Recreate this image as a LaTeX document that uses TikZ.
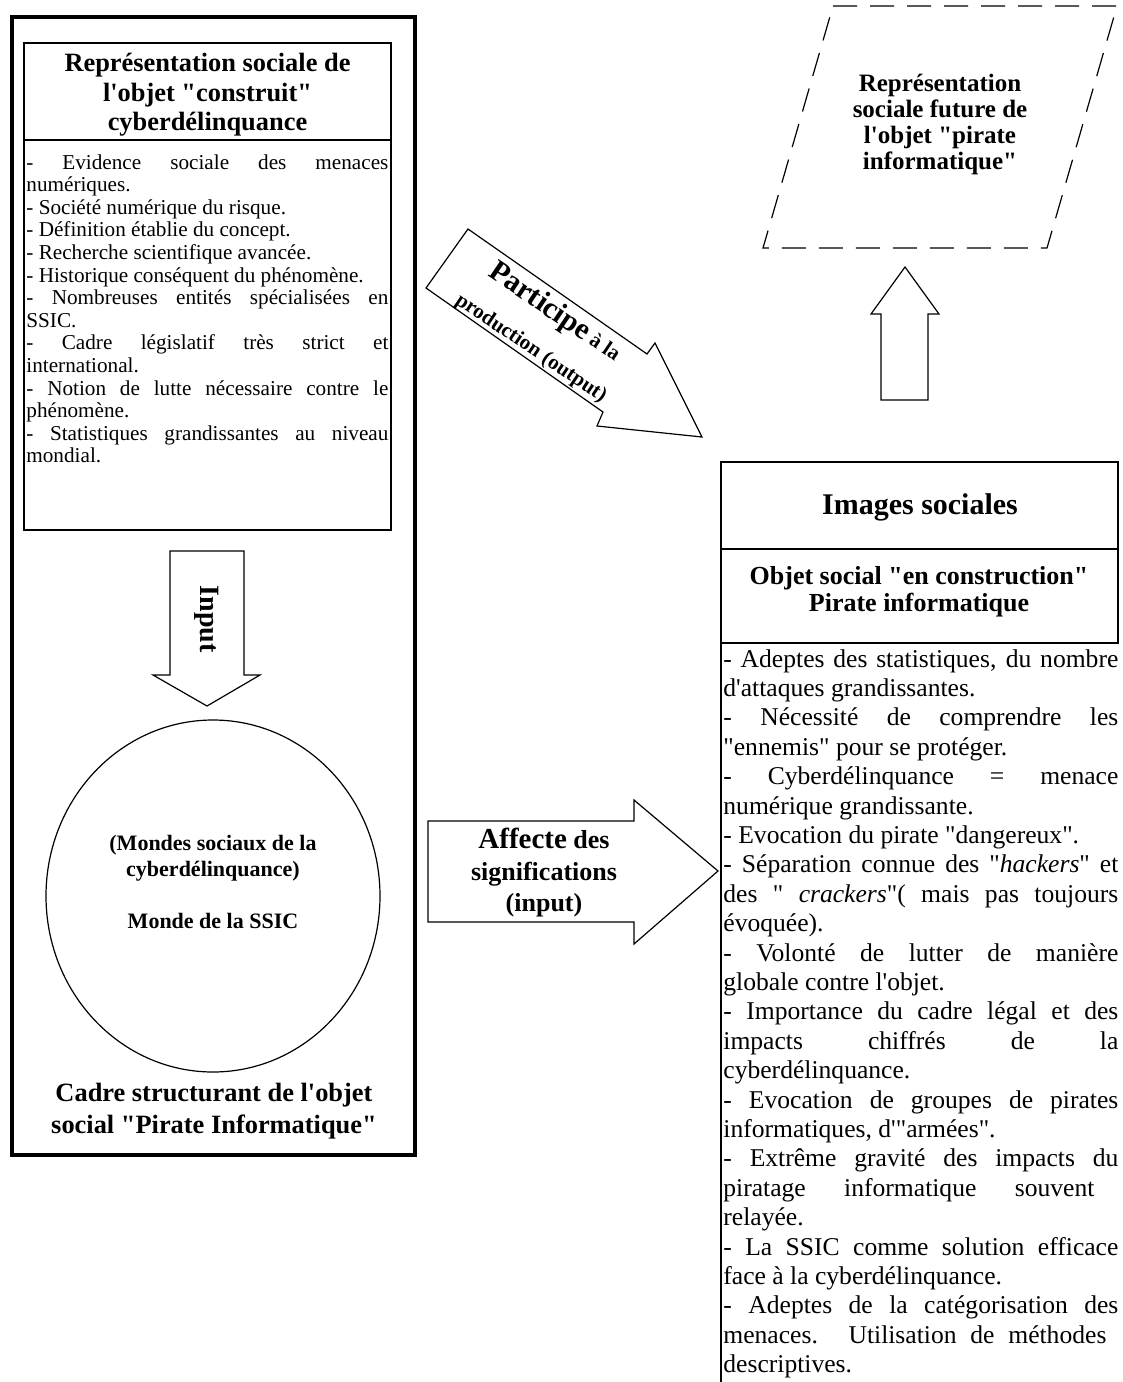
\documentclass[tikz,border=0pt]{standalone}
\usepackage{fontspec}
\setmainfont{Liberation Serif}[Ligatures=TeXOff]
\usetikzlibrary{shapes.geometric}
\setlength{\parindent}{0pt}

\begin{document}
\begin{tikzpicture}[x=0.5pt,y=-0.5pt,line join=miter]
    \tikzstyle{every node}=[inner sep=0pt];
    \tikzstyle{trait}=[draw,line width=0.6pt];
    \tikzstyle{cadre}=[draw,line width=1.6pt];
    \tikzstyle{fleche}=[draw,line width=0.6pt,fill=white];
    \tikzstyle{titre}=[align=center,font=\bfseries];
    \tikzstyle{liste}=[anchor=north west,align=justify];
    \useasboundingbox (0,0) rectangle (1123,1382);

    % bloc de gauche
    \draw[cadre] (12,17) rectangle (415,1155);
    \draw[trait] (24,43) rectangle (391,530);
    \draw[trait] (24,140) -- (391,140);
    \node[titre,font=\fontsize{13.2}{14.7}\selectfont\bfseries] (repTitre) at (207.5,95)
      {Représentation sociale de\\ l'objet "construit"\\ cyberdélinquance};
    \node[liste,text width=181pt,font=\fontsize{10.6}{11.3}\selectfont] (repListe) at (26,154) {%
      - Evidence sociale des menaces\linebreak numériques.\par
      - Société numérique du risque.\par
      - Définition établie du concept.\par
      - Recherche scientifique avancée.\par
      - Historique conséquent du phénomène.\par
      - Nombreuses entités spécialisées en\linebreak SSIC.\par
      - Cadre législatif très strict et\linebreak international.\par
      - Notion de lutte nécessaire contre le\linebreak phénomène.\par
      - Statistiques grandissantes au niveau\linebreak mondial.};

    \draw[fleche] (170,551) -- (244,551) -- (244,675) -- (260,675) -- (207,706)
      -- (153,675) -- (170,675) -- cycle;
    \node[titre,rotate=-90,font=\fontsize{14}{16}\selectfont\bfseries] (inputTxt) at (207,619) {Input};

    \node[draw,line width=0.6pt,ellipse,minimum width=167pt,minimum height=176pt] (mondes) at (213,896) {};
    \node[titre,font=\fontsize{11}{13}\selectfont\bfseries] (mondesTxt) at (213,882)
      {(Mondes sociaux de la\\ cyberdélinquance)\\[13pt] Monde de la SSIC};
    \node[titre,font=\fontsize{13.2}{16}\selectfont\bfseries] (cadreTxt) at (214,1111)
      {Cadre structurant de l'objet\\ social "Pirate Informatique"};

    % fleches du milieu
    \draw[fleche] (468,229) -- (647,354) -- (655,343) -- (702,437) -- (597,426)
      -- (603,412) -- (426,288) -- cycle;
    \node[titre,rotate=-34,font=\fontsize{10.5}{13}\selectfont\bfseries] (participeTxt) at (544,329)
      {{\fontsize{15}{17}\selectfont Participe} à la\\[7.5pt] production (output)};

    \draw[fleche] (428,821) -- (634,821) -- (634,800) -- (718,871) -- (634,944)
      -- (634,922) -- (428,922) -- cycle;
    \node[titre,font=\fontsize{13}{15.75}\selectfont\bfseries] (affecteTxt) at (544,873)
      {{\fontsize{14.5}{16}\selectfont Affecte} des\\ significations\\ (input)};

    % bloc de droite
    \draw[trait,dash pattern=on 12pt off 6.5pt] (833,6) -- (1117,6) -- (1047,248) -- (763,248) -- cycle;
    \node[titre,font=\fontsize{12.5}{13}\selectfont\bfseries] (futureTxt) at (940,124)
      {Représentation\\ sociale future de\\ l'objet "pirate\\ informatique"};

    \draw[fleche] (881,400) -- (881,314) -- (871,314) -- (905,267) -- (939,314)
      -- (928,314) -- (928,400) -- cycle;

    \draw[trait] (721,462) rectangle (1118,643);
    \draw[trait] (721,549) -- (1118,549);
    \draw[trait] (721,643) -- (721,1382);
    \node[titre,font=\fontsize{15}{17}\selectfont\bfseries] (imagesTxt) at (920,507) {Images sociales};
    \node[titre,font=\fontsize{13}{13.5}\selectfont\bfseries] (objetTxt) at (919,592)
      {Objet social "en construction"\\ Pirate informatique};
    \node[liste,text width=197.5pt,font=\fontsize{12.8}{14.7}\selectfont] (imagesListe) at (723,649) {%
      - Adeptes des statistiques, du nombre\linebreak d'attaques grandissantes.\par
      - Nécessité de comprendre les\linebreak "ennemis" pour se protéger.\par
      - Cyberdélinquance = menace\linebreak numérique grandissante.\par
      - Evocation du pirate "dangereux".\par
      - Séparation connue des "\textit{hackers}" et\linebreak des " \textit{crackers}"( mais pas toujours\linebreak évoquée).\par
      - Volonté de lutter de manière\linebreak globale contre l'objet.\par
      - Importance du cadre légal et des\linebreak impacts chiffrés de la\linebreak cyberdélinquance.\par
      - Evocation de groupes de pirates\linebreak informatiques, d'"armées".\par
      - Extrême gravité des impacts du\linebreak piratage informatique souvent\hspace*{12pt}\linebreak relayée.\par
      - La SSIC comme solution efficace\linebreak face à la cyberdélinquance.\par
      - Adeptes de la catégorisation des\linebreak menaces. Utilisation de méthodes\hspace*{6pt}\linebreak descriptives.};
\end{tikzpicture}
\end{document}
